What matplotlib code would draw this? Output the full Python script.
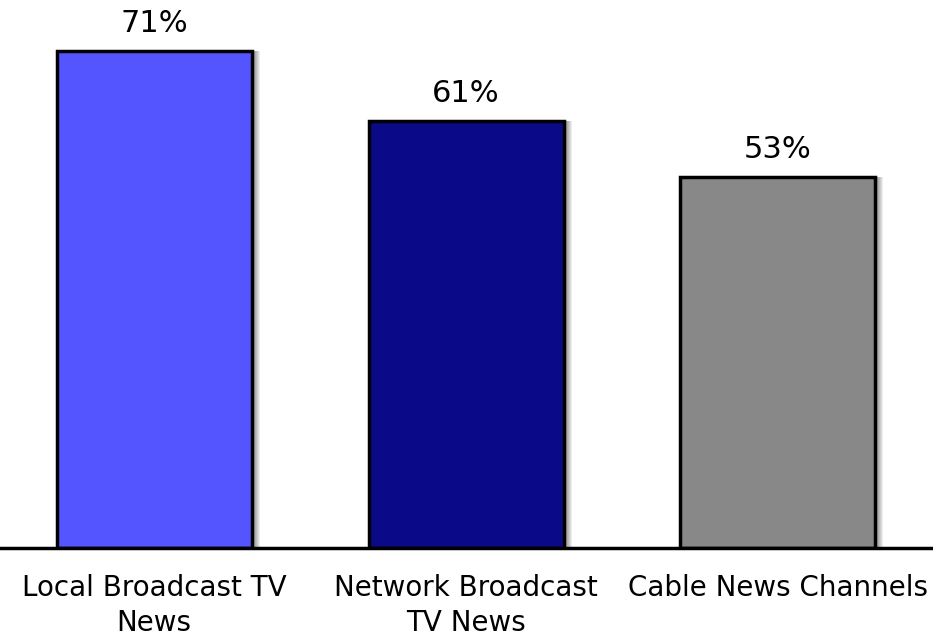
import matplotlib
matplotlib.use("Agg")
import matplotlib.pyplot as plt
import numpy as np

# Share of people using each TV news source
sources = ["Local Broadcast TV\nNews", "Network Broadcast\nTV News", "Cable News Channels"]
shares = [71, 61, 53]
colors = ["#5555FF", "#0A0A88", "#888888"]

fig = plt.figure(figsize=(9.33, 6.42), dpi=100)
ax = fig.add_axes([0, 94 / 642, 1, 548 / 642])

x = np.arange(len(shares))
width = 0.625

# soft drop shadow on the right side of each bar
px = 1 / 312
for k in range(1, 9):
    ax.bar(x + k * px, shares, width, bottom=0, color="black",
           alpha=0.07, linewidth=0, zorder=1)

ax.bar(x, shares, width, color=colors, edgecolor="black", linewidth=2.5, zorder=2)

for xi, v in zip(x, shares):
    ax.text(xi, v + 1.8, f"{v}%", ha="center", va="bottom", fontsize=22)

ax.set_xlim(-0.494, 2.497)
ax.set_ylim(0, 78.3)
ax.set_xticks(x)
ax.set_xticklabels(sources, fontsize=20, linespacing=1.3)
ax.tick_params(axis="x", length=0, pad=19)
ax.set_yticks([])
for side in ["top", "left", "right"]:
    ax.spines[side].set_visible(False)
ax.spines["bottom"].set_linewidth(2.5)
ax.spines["bottom"].set_zorder(3)

fig.savefig("out.png", dpi=100)
